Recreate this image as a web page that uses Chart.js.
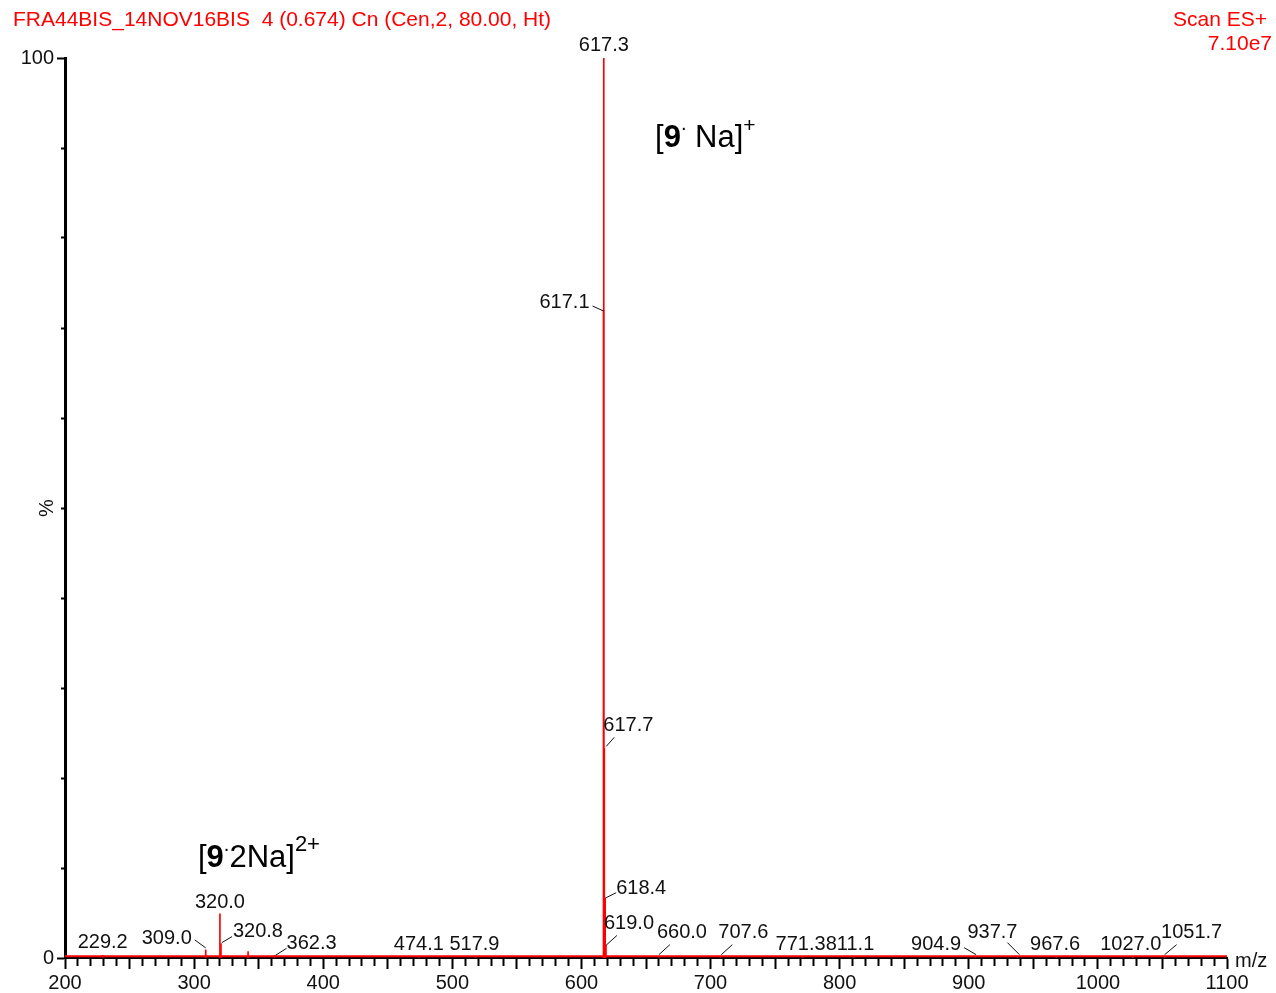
<!DOCTYPE html>
<html>
<head>
<meta charset="utf-8">
<title>FRA44BIS_14NOV16BIS spectrum</title>
<script src="https://cdn.jsdelivr.net/npm/chart.js@4.4.1/dist/chart.umd.min.js"></script>
<style>
  html, body { margin: 0; padding: 0; background: #fff; }
  canvas { display: block; }
</style>
</head>
<body>
<canvas id="spectrum" width="1276" height="993"></canvas>
<script>
// centroid peaks: m/z and % of base peak
const peakMz = [229.2, 309.0, 320.0, 320.8, 341.8, 362.3, 474.1, 517.9, 617.1, 617.3, 617.7, 618.4, 619.0,
    660.0, 707.6, 771.3, 811.1, 904.9, 937.7, 967.6, 1027.0, 1051.7];
const peakPct = [0.3, 0.9, 4.9, 1.6, 0.7, 0.3, 0.15, 0.15, 72, 100, 23.3, 6.7, 1.4,
    0.15, 0.15, 0.15, 0.15, 0.15, 0.15, 0.15, 0.15, 0.15];

// noise floor along the whole scan
const noiseMz = [200, 1100];
const noisePct = [0.2, 0.2];

const xTickLabels = ["200", "300", "400", "500", "600", "700", "800", "900", "1000", "1100"];
const yTickLabels = ["0", "100"];

// where each peak label sits: text centre [dx, dy] from the peak top,
// then an optional leader line [x1, y1, x2, y2], all in px
const labelPos = [
    [0, -13],
    [-39, -11, -11, -10, 0, -2],
    [0, -11],
    [37, -12, 1, -1, 11, -7],
    null,
    [37, -12, 1, 0, 12, -7],
    [0, -12],
    [-1, -12],
    [-39, -8, -11, -4, 0, 1],
    [0, -13],
    [24, -23, 2, -2, 10, -11],
    [36, -9, 1, 0, 11, -5],
    [23, -22, 0, 0, 11, -10],
    [23, -24, 0, -2, 11, -12],
    [23, -24, 1, -2, 12, -12],
    [-2, -12],
    [-4, -12],
    [-39, -12, -11, -9, 1, -2],
    [-25, -24, -10, -14, 2, -2],
    [-1, -12],
    [-2, -12],
    [27, -24, 0, -2, 12, -12],
];

const RED = "#ff0000";
const INK = "#111111";
const FONT = "'Liberation Sans', Arial, sans-serif";

function drawRich(ctx, x, y, parts) {
    let cx = x;
    parts.forEach(function (p) {
        ctx.font = p.font;
        ctx.fillText(p.text, cx, y - (p.rise || 0));
        cx += ctx.measureText(p.text).width;
    });
}

const spectrumText = {
    id: "spectrumText",
    afterDraw: function (chart) {
        const ctx = chart.ctx;
        const xs = chart.scales.x;
        const ys = chart.scales.y;
        const area = chart.chartArea;
        ctx.save();

        // peak labels
        ctx.font = "20px " + FONT;
        ctx.textAlign = "center";
        ctx.textBaseline = "middle";
        ctx.strokeStyle = INK;
        ctx.lineWidth = 1;
        peakMz.forEach(function (mz, i) {
            const pos = labelPos[i];
            if (!pos) return;
            const px = xs.getPixelForValue(mz);
            const py = ys.getPixelForValue(peakPct[i]);
            ctx.fillStyle = INK;
            ctx.fillText(mz.toFixed(1), px + pos[0], py + pos[1]);
            if (pos.length > 2) {
                ctx.beginPath();
                ctx.moveTo(px + pos[2], py + pos[3]);
                ctx.lineTo(px + pos[4], py + pos[5]);
                ctx.stroke();
            }
        });

        // header
        ctx.fillStyle = RED;
        ctx.font = "21px " + FONT;
        ctx.textAlign = "left";
        ctx.fillText("FRA44BIS_14NOV16BIS  4 (0.674) Cn (Cen,2, 80.00, Ht)", 13, 20);
        ctx.textAlign = "right";
        ctx.fillText("Scan ES+", 1267, 20);
        ctx.fillText("7.10e7", 1272, 44);

        // axis captions
        ctx.fillStyle = INK;
        ctx.font = "20px " + FONT;
        ctx.textAlign = "left";
        ctx.fillText("m/z", area.right + 8, area.bottom + 3);
        ctx.save();
        ctx.translate(47, (area.top + area.bottom) / 2);
        ctx.rotate(-Math.PI / 2);
        ctx.textAlign = "center";
        ctx.fillText("%", 0, 0);
        ctx.restore();

        // ion annotations
        ctx.fillStyle = "#000";
        ctx.textAlign = "left";
        ctx.textBaseline = "alphabetic";
        drawRich(ctx, xs.getPixelForValue(657), ys.getPixelForValue(90.1), [
            { text: "[", font: "31px " + FONT },
            { text: "9", font: "bold 31px " + FONT },
            { text: ".", font: "20px " + FONT, rise: 17 },
            { text: " Na]", font: "31px " + FONT },
            { text: "+", font: "21px " + FONT, rise: 15 },
        ]);
        drawRich(ctx, xs.getPixelForValue(303), ys.getPixelForValue(10.1), [
            { text: "[", font: "31px " + FONT },
            { text: "9", font: "bold 31px " + FONT },
            { text: ".", font: "20px " + FONT, rise: 16 },
            { text: "2Na]", font: "31px " + FONT },
            { text: "2+", font: "22px " + FONT, rise: 16 },
        ]);
        ctx.restore();
    },
};

const ctx = document.getElementById("spectrum").getContext("2d");

new Chart(ctx, {
    data: {
        datasets: [
            {
                type: "line",
                label: "noise",
                data: noiseMz.map(function (mz, i) { return { x: mz, y: noisePct[i] }; }),
                borderColor: RED,
                borderWidth: 2,
                pointRadius: 0,
                order: 2,
            },
            {
                type: "bar",
                label: "peaks",
                data: peakMz.map(function (mz, i) { return { x: mz, y: peakPct[i] }; }),
                backgroundColor: RED,
                barThickness: 1,
                grouped: false,
                order: 1,
            },
        ],
    },
    options: {
        responsive: false,
        animation: false,
        devicePixelRatio: 1,
        layout: {
            padding: { left: 0, right: 49, top: 58, bottom: 0 },
        },
        plugins: {
            legend: { display: false },
            tooltip: { enabled: false },
        },
        scales: {
            x: {
                type: "linear",
                position: "bottom",
                min: 200,
                max: 1100,
                offset: false,
                border: { color: "#000", width: 2 },
                grid: {
                    offset: false,
                    drawOnChartArea: false,
                    tickLength: 11,
                    tickColor: "#000",
                    tickWidth: 2,
                    tickBorderDash: function (c) {
                        return c.tick && c.tick.value % 50 === 0 ? [] : [7, 100];
                    },
                },
                afterBuildTicks: function (scale) {
                    const ticks = [];
                    for (let v = 200; v <= 1100; v += 10) ticks.push({ value: v });
                    scale.ticks = ticks;
                },
                ticks: {
                    autoSkip: false,
                    maxRotation: 0,
                    padding: 2,
                    color: INK,
                    font: { family: FONT, size: 20 },
                    callback: function (v) {
                        return xTickLabels.indexOf(String(v)) >= 0 ? String(v) : "";
                    },
                },
                afterFit: function (scale) {
                    scale.height = 35;
                },
            },
            y: {
                type: "linear",
                position: "left",
                min: 0,
                max: 100,
                border: { color: "#000", width: 3 },
                grid: {
                    drawOnChartArea: false,
                    tickLength: 8,
                    tickColor: "#000",
                    tickWidth: 2,
                    tickBorderDash: function (c) {
                        return c.tick && (c.tick.value === 0 || c.tick.value === 100) ? [] : [0, 4, 100];
                    },
                },
                afterBuildTicks: function (scale) {
                    const ticks = [];
                    for (let v = 0; v <= 100; v += 10) ticks.push({ value: v });
                    scale.ticks = ticks;
                },
                ticks: {
                    autoSkip: false,
                    padding: 3,
                    color: INK,
                    font: { family: FONT, size: 20 },
                    callback: function (v) {
                        return yTickLabels.indexOf(String(v)) >= 0 ? String(v) : "";
                    },
                },
                afterFit: function (scale) {
                    scale.width = 65;
                },
            },
        },
    },
    plugins: [spectrumText],
});
</script>
</body>
</html>
